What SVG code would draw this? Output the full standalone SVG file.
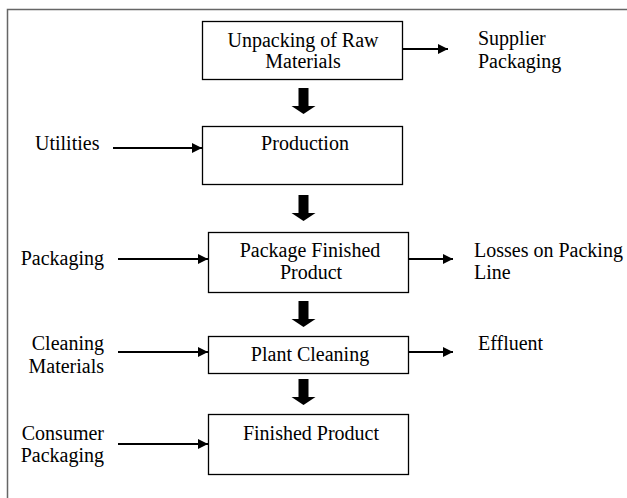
<svg xmlns="http://www.w3.org/2000/svg" width="627" height="498" viewBox="0 0 627 498">
<style>
.box{fill:#fff;stroke:#000;stroke-width:1.3}
.t{font-family:"Liberation Serif","Times New Roman",serif;font-size:20px;fill:#000}
.m{text-anchor:middle}
.e{text-anchor:end}
.ln{stroke:#000;stroke-width:2;fill:none;marker-end:url(#ah)}
.fat{fill:#000}
</style>
<defs>
<marker id="ah" markerUnits="userSpaceOnUse" markerWidth="10" markerHeight="10" refX="10" refY="5" orient="auto" viewBox="0 0 10 10">
<path d="M0,0 L10,5 L0,10 z" fill="#000"/>
</marker>
<path id="fa" d="M-5,0 H5 V18 H12 L0,26 L-12,18 H-5 Z"/>
</defs>
<rect x="7.5" y="9.5" width="640" height="500" fill="#fff" stroke="#666" stroke-width="1.5"/>

<g id="n-unpacking">
<rect class="box" x="202.5" y="21.5" width="200" height="58"/>
<text class="t m" x="303" y="47">Unpacking of Raw</text>
<text class="t m" x="303" y="68">Materials</text>
</g>
<g id="n-production">
<rect class="box" x="202.5" y="126.5" width="200" height="58"/>
<text class="t m" x="305" y="150">Production</text>
</g>
<g id="n-package">
<rect class="box" x="208.5" y="232.5" width="200" height="60"/>
<text class="t m" x="310" y="257">Package Finished</text>
<text class="t m" x="311" y="279">Product</text>
</g>
<g id="n-cleaning">
<rect class="box" x="208.5" y="336.5" width="200" height="37"/>
<text class="t m" x="310" y="361">Plant Cleaning</text>
</g>
<g id="n-finished">
<rect class="box" x="208.5" y="414.5" width="200" height="60"/>
<text class="t m" x="311" y="440">Finished Product</text>
</g>

<g id="n-supplier">
<text class="t" x="478" y="45">Supplier</text>
<text class="t" x="478" y="68">Packaging</text>
</g>
<g id="n-utilities">
<text class="t" x="35" y="150">Utilities</text>
</g>
<g id="n-packaging">
<text class="t e" x="104" y="265">Packaging</text>
</g>
<g id="n-losses">
<text class="t" x="474" y="257">Losses on Packing</text>
<text class="t" x="474" y="279">Line</text>
</g>
<g id="n-cleaningmat">
<text class="t e" x="104" y="350">Cleaning</text>
<text class="t e" x="104" y="373">Materials</text>
</g>
<g id="n-effluent">
<text class="t" x="478" y="350">Effluent</text>
</g>
<g id="n-consumer">
<text class="t e" x="104" y="440">Consumer</text>
<text class="t e" x="104" y="462">Packaging</text>
</g>

<g id="connectors">
<line class="ln" x1="403" y1="49" x2="448" y2="49"/>
<line class="ln" x1="113" y1="148" x2="202" y2="148"/>
<line class="ln" x1="118" y1="259" x2="208" y2="259"/>
<line class="ln" x1="408" y1="259" x2="453" y2="259"/>
<line class="ln" x1="118" y1="352" x2="208" y2="352"/>
<line class="ln" x1="408" y1="352" x2="453" y2="352"/>
<line class="ln" x1="118" y1="444" x2="208" y2="444"/>
<use href="#fa" class="fat" x="303.5" y="88"/>
<use href="#fa" class="fat" x="303.5" y="195"/>
<use href="#fa" class="fat" x="303.5" y="301"/>
<use href="#fa" class="fat" x="303.5" y="379"/>
</g>
</svg>
